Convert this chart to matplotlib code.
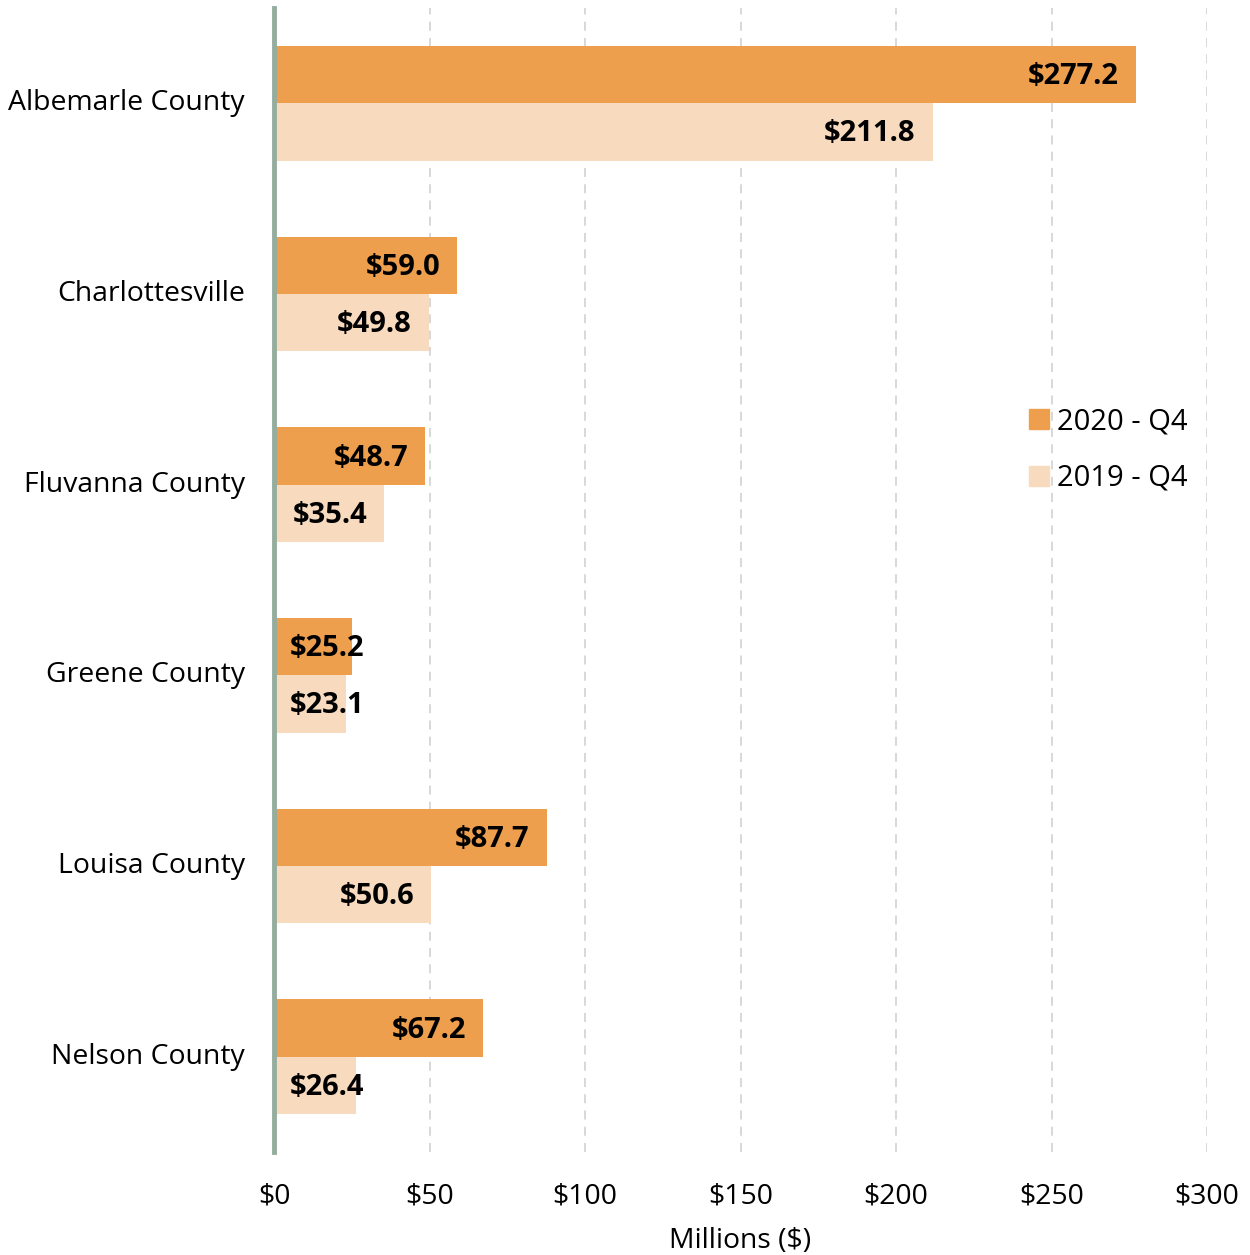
import matplotlib
matplotlib.use("Agg")
import matplotlib.pyplot as plt
from matplotlib.patches import Patch

# data (millions of $)
places = ["Albemarle County", "Charlottesville", "Fluvanna County",
          "Greene County", "Louisa County", "Nelson County"]
q4_2020 = [277.2, 59.0, 48.7, 25.2, 87.7, 67.2]
q4_2019 = [211.8, 49.8, 35.4, 23.1, 50.6, 26.4]
series_names = ["2020 - Q4", "2019 - Q4"]
xticks = [0, 50, 100, 150, 200, 250, 300]

C_2020 = "#EE9F4D"
C_2019 = "#F8DBBF"
AXIS_C = "#94AD9F"

plt.rcParams["font.family"] = ["Open Sans", "DejaVu Sans"]
FS = 20.4

fig = plt.figure(figsize=(12.5, 12.55), dpi=100)
ax = fig.add_axes([274 / 1250, 1 - 1152 / 1255, (1207 - 274) / 1250, (1152 - 8) / 1255])

h = 0.3
y = list(range(len(places)))
ax.barh([i - h / 2 for i in y], q4_2020, height=h, color=C_2020, zorder=2)
ax.barh([i + h / 2 for i in y], q4_2019, height=h, color=C_2019, zorder=2)

# value labels: right-aligned inside the bar, pushed to the left edge when the bar is short
for vals, off in ((q4_2020, -h / 2), (q4_2019, h / 2)):
    for i, v in enumerate(vals):
        if v > 34:
            ax.annotate(f"${v:.1f}", (v, i + off), xytext=(-17, -2), textcoords="offset pixels",
                        ha="right", va="center", fontsize=21, fontweight="bold", zorder=3)
        else:
            ax.annotate(f"${v:.1f}", (0, i + off), xytext=(16, -2), textcoords="offset pixels",
                        ha="left", va="center", fontsize=21, fontweight="bold", zorder=3)

ax.set_xlim(0, 300)
ax.set_ylim(len(places) - 0.5, -0.5)
ax.set_yticks(y)
ax.set_yticklabels(places, fontsize=FS, va="center")
ax.set_xticks(xticks)
ax.set_xticklabels([f"${t}" for t in xticks], fontsize=FS)
ax.tick_params(axis="both", length=0)
ax.tick_params(axis="y", pad=21)
ax.tick_params(axis="x", pad=22)
ax.set_xlabel("Millions ($)", fontsize=FS, labelpad=12)

ax.grid(axis="x", color="#D6D6D6", linestyle=(0, (5, 4)), linewidth=1.3, zorder=0)
for s in ["top", "right", "bottom"]:
    ax.spines[s].set_visible(False)
ax.spines["left"].set_color(AXIS_C)
ax.spines["left"].set_linewidth(3.5)
ax.spines["left"].set_zorder(4)

handles = [Patch(color=C_2020), Patch(color=C_2019)]
ax.legend(handles, series_names, loc="center left", bbox_to_anchor=(1003 / 1250, 1 - 450 / 1255),
          bbox_transform=fig.transFigure, frameon=False, fontsize=21,
          handlelength=0.68, handleheight=0.68, handletextpad=0.28, labelspacing=0.95)

fig.savefig("out.png", dpi=100)
